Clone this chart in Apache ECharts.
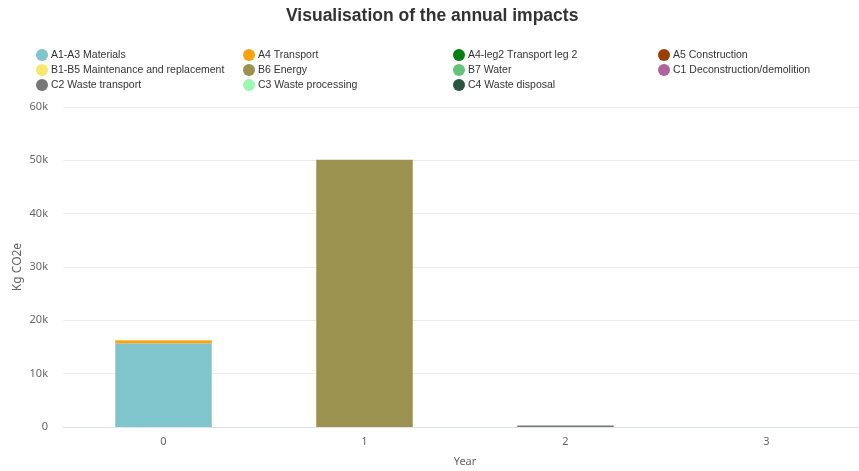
<!DOCTYPE html>
<html>
<head>
<meta charset="utf-8">
<script src="https://cdn.jsdelivr.net/npm/echarts@6/dist/echarts.min.js"></script>
<style>
  html, body { margin: 0; padding: 0; background: #fff; }
  #chart { width: 859px; height: 471px; }
</style>
</head>
<body>
<div id="chart"></div>
<script>
var years = ['0', '1', '2', '3'];
var stageNames = ['A1-A3 Materials', 'A4 Transport', 'A4-leg2 Transport leg 2', 'A5 Construction',
  'B1-B5 Maintenance and replacement', 'B6 Energy', 'B7 Water', 'C1 Deconstruction/demolition',
  'C2 Waste transport', 'C3 Waste processing', 'C4 Waste disposal'];
var stageColors = ['#80c4cc', '#ffa20f', '#00800f', '#9a3f00', '#f5e86a', '#9b924f', '#66c27a',
  '#b0639a', '#777777', '#9ff7b3', '#2a5640'];
// values per year, same order as stageNames
var a1a3 = [15700, 0, 0, 0];
var a4 = [550, 0, 0, 0];
var a4leg2 = [0, 0, 0, 0];
var a5 = [0, 0, 0, 0];
var b1b5 = [80, 0, 0, 0];
var b6 = [0, 50100, 0, 0];
var b7 = [0, 0, 0, 0];
var c1 = [0, 0, 0, 0];
var c2 = [0, 0, 280, 0];
var c3 = [0, 0, 0, 0];
var c4 = [0, 0, 0, 0];
var stageValues = [a1a3, a4, a4leg2, a5, b1b5, b6, b7, c1, c2, c3, c4];

var chart = echarts.init(document.getElementById('chart'));

var series = stageNames.map(function (n, i) {
  return {
    name: n,
    type: 'bar',
    stack: 'total',
    barWidth: '48%',
    data: stageValues[i],
    itemStyle: { color: stageColors[i] }
  };
});

// one legend per column, 3 rows each
var colX = [31, 238, 448, 653];
var legends = colX.map(function (x, c) {
  var names = [];
  for (var r = 0; r < 3; r++) {
    var k = r * 4 + c;
    if (k < stageNames.length) names.push(stageNames[k]);
  }
  return {
    left: x,
    top: 44,
    orient: 'vertical',
    icon: 'circle',
    itemWidth: 12,
    itemHeight: 12,
    itemGap: 3,
    data: names,
    textStyle: { fontFamily: 'Liberation Sans', fontSize: 10.5, color: '#333', padding: [0, 0, 0, -2] }
  };
});

var option = {
  animation: false,
  title: {
    text: 'Visualisation of the annual impacts',
    left: 281,
    top: 2,
    textStyle: { fontFamily: 'Liberation Sans', fontSize: 17.5, fontWeight: 'bold', color: '#333' }
  },
  legend: legends,
  grid: { left: 63, right: -8, top: 107, bottom: 44, outerBoundsMode: 'none' },
  xAxis: {
    type: 'category',
    data: years,
    name: 'Year',
    nameLocation: 'middle',
    nameGap: 29,
    nameTextStyle: { fontFamily: 'Noto Sans', fontSize: 11, color: '#666' },
    axisTick: { show: false },
    axisLine: { lineStyle: { color: '#dde3f0' } },
    axisLabel: { fontFamily: 'Noto Sans', fontSize: 11, color: '#666', margin: 9 }
  },
  yAxis: {
    type: 'value',
    min: 0,
    max: 60000,
    interval: 10000,
    name: 'Kg CO2e',
    nameLocation: 'middle',
    nameGap: 39,
    nameMoveOverlap: false,
    nameTextStyle: { fontFamily: 'Noto Sans', fontSize: 12, color: '#666' },
    axisLabel: {
      fontFamily: 'Noto Sans', fontSize: 11, color: '#666', margin: 15,
      formatter: function (v) { return v === 0 ? '0' : (v / 1000) + 'k'; }
    },
    splitLine: { lineStyle: { color: '#ececec' } }
  },
  series: series
};

chart.setOption(option);
</script>
</body>
</html>
